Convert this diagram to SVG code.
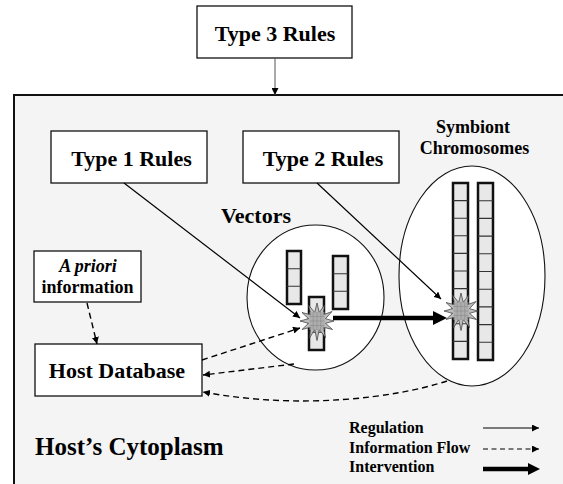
<svg xmlns="http://www.w3.org/2000/svg" width="563" height="484" viewBox="0 0 563 484">
<style>
text{font-family:"Liberation Serif","Times New Roman",serif;font-weight:bold;fill:#000}
.box{fill:#fff;stroke:#111;stroke-width:1.3}
.ell{fill:#fff;stroke:#111;stroke-width:1.1}
.bar{fill:#e8e8e8;stroke:#111;stroke-width:2.5}
.cell{stroke:#333;stroke-width:1.1}
.reg{fill:none;stroke:#000;stroke-width:1.2}
.info{fill:none;stroke:#000;stroke-width:1.4;stroke-dasharray:6,4}
.int{fill:none;stroke:#000;stroke-width:4.5}
.star{fill:#bdbdbd;stroke:#333;stroke-width:0.7}
.grid{stroke:#8a8a8a;stroke-width:0.6;fill:none}
</style>
<defs>
<marker id="ah" viewBox="0 0 10 10" refX="10" refY="5" markerWidth="7" markerHeight="7" markerUnits="userSpaceOnUse" orient="auto"><path d="M0,0 L10,5 L0,10 z" fill="#000"/></marker>
<g id="burst">
<polygon class="star" points="0,-18 2.3,-8.5 7.5,-16 6.2,-6.2 15,-9.5 8.5,-2.3 17,0 8.5,2.3 15.5,8.5 6.2,6.2 8.5,16.5 2.3,8.5 0,19.5 -2.3,8.5 -7.5,17 -6.2,6.2 -15,8.5 -8.5,2.3 -17,0 -8.5,-2.3 -15,-8.5 -6.2,-6.2 -8.5,-16 -2.3,-8.5"/>
<rect x="-7.5" y="-9" width="15" height="18" fill="#a8a8a8" opacity="0.7"/>
<path class="grid" d="M-7.5,-4.5 H7.5 M-7.5,0 H7.5 M-7.5,4.5 H7.5 M-3.75,-9 V9 M0,-9 V9 M3.75,-9 V9"/>
</g>
</defs>

<rect id="cytoplasm-bg" x="14" y="95" width="560" height="400" fill="#f4f4f4" stroke="#111" stroke-width="2"/>

<g id="type3">
<rect class="box" x="197" y="6" width="155" height="52"/>
<text x="275" y="41" font-size="22" text-anchor="middle">Type 3 Rules</text>
</g>

<g id="type1">
<rect class="box" x="51" y="131" width="156" height="52"/>
<text x="131.5" y="166" font-size="22" text-anchor="middle">Type 1 Rules</text>
</g>

<g id="type2">
<rect class="box" x="243" y="131" width="156" height="52"/>
<text x="323" y="166" font-size="22" text-anchor="middle">Type 2 Rules</text>
</g>

<g id="symbiont">
<ellipse class="ell" cx="472" cy="276" rx="73" ry="110"/>
<text x="473" y="133" font-size="18" text-anchor="middle">Symbiont</text>
<text x="474.5" y="154" font-size="18" text-anchor="middle">Chromosomes</text>
<rect class="bar" x="453" y="183" width="15" height="176"/>
<path class="cell" d="M453,200.6H468M453,218.2H468M453,235.8H468M453,253.4H468M453,271H468M453,288.6H468M453,306.2H468M453,323.8H468M453,341.4H468"/>
<rect class="bar" x="478" y="183" width="15" height="177"/>
<path class="cell" d="M478,200.7H493M478,218.4H493M478,236.1H493M478,253.8H493M478,271.5H493M478,289.2H493M478,306.9H493M478,324.6H493M478,342.3H493"/>
<use href="#burst" x="461" y="311"/>
</g>

<g id="vectors">
<ellipse class="ell" cx="315.5" cy="297.5" rx="68.5" ry="72.5"/>
<text x="256" y="223" font-size="22" text-anchor="middle">Vectors</text>
<rect class="bar" x="287" y="251" width="14" height="53"/>
<path class="cell" d="M287,268.7H301M287,286.3H301"/>
<rect class="bar" x="333" y="256" width="15" height="53"/>
<path class="cell" d="M333,273.7H348M333,291.3H348"/>
<rect class="bar" x="309" y="297" width="15" height="53"/>
<path class="cell" d="M309,314.7H324M309,332.3H324"/>
<use href="#burst" x="317" y="321"/>
</g>

<g id="apriori">
<rect class="box" x="34" y="251" width="107" height="51"/>
<text x="88" y="272" font-size="18" text-anchor="middle"><tspan font-style="italic">A priori</tspan></text>
<text x="87.5" y="293" font-size="18" text-anchor="middle">information</text>
</g>

<g id="hostdb">
<rect class="box" x="35" y="344" width="167" height="52"/>
<text x="117" y="378" font-size="22" text-anchor="middle">Host Database</text>
</g>

<g id="cytoplasm-label">
<text x="35" y="455" font-size="25">Host’s Cytoplasm</text>
</g>

<g id="connectors">
<line x1="275" y1="58" x2="275" y2="95" stroke="#555" stroke-width="1" marker-end="url(#ah)"/>
<line class="reg" x1="124" y1="183" x2="300" y2="318" marker-end="url(#ah)"/>
<line class="reg" x1="317" y1="183" x2="441" y2="299" marker-end="url(#ah)"/>
<line class="int" x1="333" y1="318" x2="434" y2="318"/>
<polygon points="433,311 447,318 433,325" fill="#000"/>
<line class="info" x1="87" y1="303" x2="97" y2="344" marker-end="url(#ah)"/>
<line class="info" x1="202" y1="360" x2="300" y2="328" marker-end="url(#ah)"/>
<line class="info" x1="294" y1="364" x2="203" y2="375" marker-end="url(#ah)"/>
<path class="info" d="M447,381 C395,398 300,410 203,392" marker-end="url(#ah)"/>
</g>

<g id="legend">
<text x="349" y="433" font-size="16">Regulation</text>
<text x="349" y="453" font-size="16">Information Flow</text>
<text x="349" y="472" font-size="16">Intervention</text>
<line class="reg" x1="483" y1="428" x2="539" y2="428" marker-end="url(#ah)"/>
<line class="reg" x1="483" y1="449" x2="539" y2="449" stroke-dasharray="5,3.5" marker-end="url(#ah)"/>
<line class="int" x1="483" y1="469" x2="530" y2="469"/>
<polygon points="528,463 540,469 528,475" fill="#000"/>
</g>
</svg>
